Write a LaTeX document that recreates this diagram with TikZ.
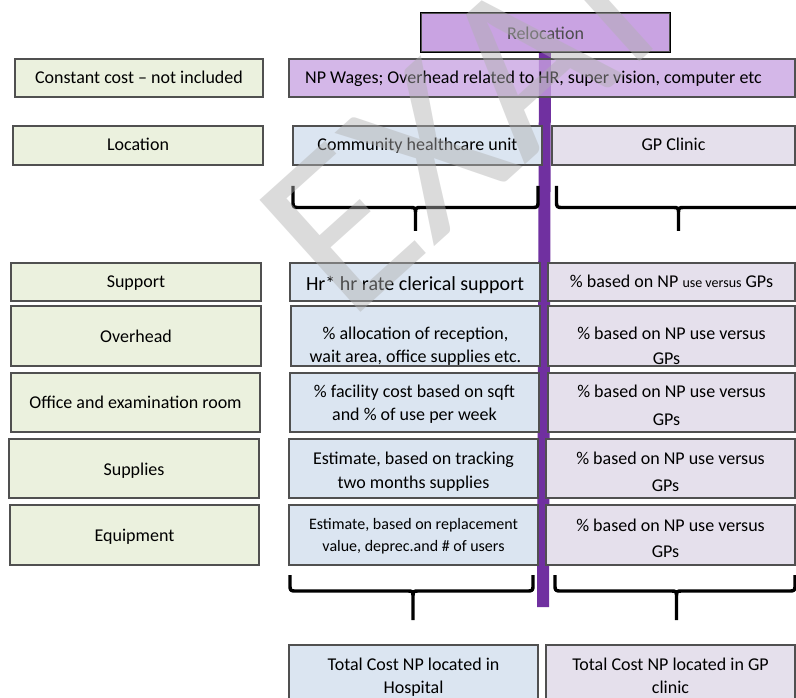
\documentclass[tikz,border=0pt]{standalone}
\usepackage{fontspec}
\setmainfont{Carlito}
\definecolor{grn}{HTML}{EBF1DE}
\definecolor{blu}{HTML}{DBE5F1}
\definecolor{lav}{HTML}{E5E0EC}
\definecolor{pur}{HTML}{C9A3E2}
\definecolor{barc}{HTML}{7030A0}
\definecolor{bord}{HTML}{505050}
\definecolor{wmc}{HTML}{B0B0B0}
\newcommand\bx[6]{\node[box, fill=#6, minimum width={(#3)-(#2)}, minimum height={(#5)-(#4)}] (#1) at ({((#2)+(#3))/2},{-((#4)+(#5))/2}) {};}
\newcommand\twol[2]{\begin{tabular}[t]{@{}c@{}}#1\\#2\end{tabular}}
\newcommand\curly[6]{\draw[bracel] (#1,-#4) -- (#1,{-(#5-7)}) .. controls (#1,-#5) .. ({#1+7},-#5) -- ({#3-6},-#5) .. controls (#3,-#5) .. (#3,{-(#5+6)}) -- (#3,-#6) (#3,{-(#5+6)}) .. controls (#3,-#5) .. ({#3+6},-#5) -- ({#2-7},-#5) .. controls (#2,-#5) .. (#2,{-(#5-7)}) -- (#2,-#4);}
\begin{document}
\begin{tikzpicture}[x=1pt,y=1pt,
  box/.style={draw=bord, line width=1.4pt, inner sep=0pt, rectangle},
  txt/.style={anchor=base, inner sep=0pt, font=\fontsize{18}{23}\selectfont},
  txtr/.style={anchor=base, inner sep=0pt, font=\fontsize{18}{27}\selectfont},
  bracel/.style={line width=3.4pt, line join=round, draw=black}]
\useasboundingbox (0,0) rectangle (796,-698);
\fill[white] (0,0) rectangle (796,-698);
\clip (0,0) rectangle (796,-698);
% purple bar
\fill[barc] (539,-52) -- (551,-52) -- (549,-607) -- (537,-607) -- cycle;
% top boxes
\bx{reloc}{421}{670}{13}{52}{pur}
\draw[black, line width=1.4pt] (reloc.south west) rectangle (reloc.north east);
\node[txt, text=black!70] (reloct) at (reloc.center |- 0,-40) {Relocation};
\bx{const}{15}{263}{59}{97}{grn}
\node[txt] (constt) at (const.center |- 0,-83.5) {Constant cost – not included};
\node[box, fill=pur, fill opacity=0.78, minimum width=506, minimum height=38] (wages) at (542,-78) {};
\node[txt, anchor=base west] (wagest) at (305,-83.5) {NP Wages; Overhead related to HR, super vision, computer etc};
\bx{loc}{13}{263}{126}{165}{grn}
\node[txt] (loct) at (loc.center |- 0,-151) {Location};
\bx{chu}{293}{542}{126}{165}{blu}
\node[txt] (chut) at (chu.center |- 0,-151) {Community healthcare unit};
\bx{gp}{552}{795}{126}{165}{lav}
\node[txt] (gpt) at (gp.center |- 0,-151) {GP Clinic};
% braces
\curly{293}{538}{415.5}{186}{207.5}{231}
\curly{556.5}{800}{678.5}{186}{207.5}{231}
% support row
\bx{supL}{11}{261}{263}{301}{grn}
\node[txt] (supLt) at (supL.center |- 0,-287.5) {Support};
\bx{supM}{290}{540}{263}{301}{blu}
\node[txt, font=\fontsize{20}{24}\selectfont] (supMt) at (supM.center |- 0,-290) {Hr* hr rate clerical support};
\bx{supR}{548}{795}{263}{301}{lav}
\node[txt] (supRt) at (supR.center |- 0,-287.5) {\% based on NP {\fontsize{14}{16}\selectfont use versus} GPs};
% overhead row
\bx{ovhL}{11}{261}{306}{366}{grn}
\node[txt] (ovhLt) at (ovhL.center |- 0,-342.5) {Overhead};
\bx{ovhM}{291}{540}{306}{366}{blu}
\node[txt] (ovhMt) at (ovhM.center |- 0,-339) {\twol{\% allocation of reception,}{wait area, office supplies etc.}};
\bx{ovhR}{548}{795}{306}{366}{lav}
\node[txt, font=\fontsize{18}{25}\selectfont] (ovhRt) at (ovhR.center |- 0,-339) {\twol{\% based on NP use versus}{GPs\hspace*{10pt}}};
% office row
\bx{offL}{11}{260}{373}{432}{grn}
\node[txt] (offLt) at (offL.center |- 0,-408) {Office and examination room};
\bx{offM}{290}{539}{373}{432}{blu}
\node[txt] (offMt) at (offM.center |- 0,-397) {\twol{\% facility cost based on sqft}{and \% of use per week}};
\bx{offR}{548}{795}{373}{432}{lav}
\node[txtr, font=\fontsize{18}{28}\selectfont] (offRt) at (offR.center |- 0,-397) {\twol{\% based on NP use versus}{GPs\hspace*{10pt}}};
% supplies row
\bx{splL}{9}{259}{439}{498}{grn}
\node[txt] (splLt) at (splL.center |- 0,-475) {Supplies};
\bx{splM}{289}{538}{439}{498}{blu}
\node[txt, font=\fontsize{18}{24}\selectfont] (splMt) at (splM.center |- 0,-464) {\twol{Estimate, based on tracking}{two months supplies}};
\bx{splR}{546}{795}{439}{498}{lav}
\node[txtr] (splRt) at (splR.center |- 0,-464) {\twol{\% based on NP use versus}{GPs\hspace*{10pt}}};
% equipment row
\bx{eqpL}{10}{259}{505}{565}{grn}
\node[txt] (eqpLt) at (eqpL.center |- 0,-541.5) {Equipment};
\bx{eqpM}{289}{538}{505}{565}{blu}
\node[txt, font=\fontsize{16}{22}\selectfont] (eqpMt) at (eqpM.center |- 0,-529.5) {\twol{Estimate, based on replacement}{value, deprec.and \# of users}};
\bx{eqpR}{546}{795}{505}{565}{lav}
\node[txtr, font=\fontsize{18}{26}\selectfont] (eqpRt) at (eqpR.center |- 0,-531) {\twol{\% based on NP use versus}{GPs\hspace*{10pt}}};
% bottom braces
\curly{290}{533}{413}{575}{591}{620}
\curly{555}{795}{676.5}{575}{591}{620}
% totals
\bx{totL}{289}{538}{645}{710}{blu}
\node[txt] (totLt) at (totL.center |- 0,-670) {\twol{Total Cost NP located in}{Hospital}};
\bx{totR}{546}{795}{645}{710}{lav}
\node[txt] (totRt) at (totR.center |- 0,-670) {\twol{Total Cost NP located in GP}{clinic}};
% watermark
\node[anchor=base west, inner sep=0pt, rotate=42, text=wmc, text opacity=0.45, font=\fontsize{235}{235}\selectfont] (wmark) at (348,-324) {EXAMPLE};
\end{tikzpicture}
\end{document}
